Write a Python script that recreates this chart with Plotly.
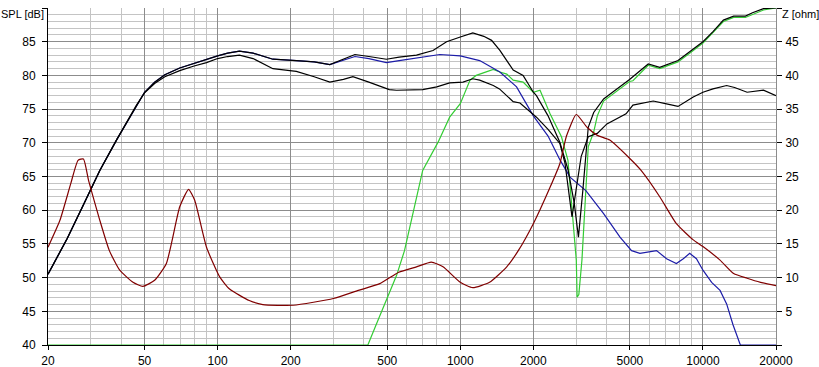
import plotly.graph_objects as go

# ---------------- data ----------------
freq_upper = [20, 24, 28, 32.7, 38.3, 46.3, 50, 55, 60.6, 69.8, 80, 90, 100, 110, 123, 140, 169, 211,
              250, 290, 330, 368, 420, 496, 560, 660, 772, 878, 1000, 1126, 1250, 1346, 1456, 1554,
              1652, 1815, 2000, 2060, 2300, 2572, 2780, 2950, 3068, 3200, 3368, 3546, 3670, 3896,
              4240, 4984, 5950, 6636, 7894, 8980, 10000, 11000, 12140, 13380, 14960, 16000, 17760, 20000]
spl_upper = [50.5, 55.8, 60.8, 65.9, 70.4, 75.6, 77.5, 79.0, 80.1, 81.1, 81.8, 82.4, 82.9, 83.3, 83.6,
             83.3, 82.4, 82.2, 82.0, 81.6, 82.4, 83.1, 82.8, 82.4, 82.7, 83.0, 83.7, 85.0, 85.7, 86.3,
             85.8, 85.2, 83.7, 82.2, 80.8, 80.0, 77.5, 77.0, 74.0, 70.1, 66.0, 61.0, 56.0, 63.0, 72.3,
             74.5, 75.2, 76.5, 77.5, 79.4, 81.7, 81.2, 82.2, 83.7, 85.0, 86.5, 88.2, 88.8, 88.8, 89.3,
             89.9, 90.0]

freq_lower = [20, 24, 28, 32.7, 38.3, 46.3, 50, 55, 60.6, 69.8, 80, 90, 100, 110, 123, 140, 169, 211,
              250, 290, 330, 361, 420, 466, 510, 546, 620, 700, 800, 904, 1026, 1126, 1202, 1368, 1450,
              1652, 1762, 2060, 2300, 2572, 2700, 2887, 3000, 3150, 3368, 3670, 4020, 4460, 4820, 5146,
              6240, 7000, 7894, 9120, 10000, 11000, 12520, 13500, 15200, 17760, 20000]
spl_lower = [50.5, 55.8, 60.8, 65.9, 70.4, 75.6, 77.4, 78.8, 79.8, 80.7, 81.4, 81.9, 82.5, 82.8, 83.0,
             82.5, 81.0, 80.6, 79.8, 79.0, 79.4, 79.8, 79.0, 78.4, 77.9, 77.8, 77.8, 77.9, 78.3, 78.9,
             79.0, 79.5, 79.3, 78.5, 78.0, 76.1, 75.9, 73.8, 72.0, 69.9, 67.0, 59.0, 63.0, 68.0, 70.9,
             71.4, 72.8, 73.6, 74.3, 75.6, 76.2, 75.8, 75.4, 76.8, 77.5, 78.0, 78.5, 78.2, 77.5, 77.8,
             77.0]

freq_blue = [20, 24, 28, 32.7, 38.3, 46.3, 50, 55, 60.6, 69.8, 80, 90, 100, 110, 123, 140, 169, 211,
             250, 290, 330, 368, 420, 496, 560, 660, 824, 1000, 1202, 1456, 1706, 2000, 2300, 2572,
             2832, 3292, 3896, 4552, 5080, 5496, 6000, 6440, 7080, 7772, 8300, 8820, 9400, 10000,
             10860, 11760, 12520, 13300, 14260, 20000]
spl_blue = [50.5, 55.8, 60.8, 65.9, 70.4, 75.6, 77.5, 79.0, 80.1, 81.1, 81.8, 82.4, 82.9, 83.3, 83.6,
            83.3, 82.4, 82.2, 82.0, 81.6, 82.3, 82.8, 82.5, 81.9, 82.2, 82.6, 83.1, 82.9, 82.2, 80.5,
            78.3, 74.0, 71.0, 67.5, 64.9, 62.9, 59.5, 56.0, 54.0, 53.6, 53.8, 54.0, 52.8, 52.1, 52.8,
            53.6, 52.8, 51.1, 49.3, 48.1, 46.1, 43.0, 40.0, 40.0]

freq_green = [20, 416, 450, 496, 546, 589, 650, 700, 810, 904, 1000, 1097, 1163, 1260, 1368, 1456, 1554,
              1652, 1815, 2000, 2131, 2344, 2612, 2778, 2900, 3006, 3030, 3080, 3172, 3292, 3368, 3546,
              3670, 3896, 4240, 4984, 5146, 5950, 6636, 7894, 8980, 10000, 12140, 13380, 14960, 17760,
              20000]
spl_green = [40.0, 40.0, 43.0, 46.6, 50.3, 54.0, 61.0, 65.9, 70.1, 73.8, 75.8, 79.3, 80.0, 80.5, 80.9,
             80.5, 80.2, 79.3, 79.0, 77.5, 77.8, 74.3, 70.9, 67.4, 60.0, 52.6, 47.1, 47.5, 52.6, 62.5,
             69.4, 71.6, 74.0, 76.2, 77.2, 79.1, 79.2, 81.5, 81.0, 82.0, 83.5, 84.8, 88.0, 88.6, 88.6,
             89.7, 90.0]

freq_imp = [20, 22.4, 24.8, 26.6, 28, 29.4, 32.7, 35.8, 39.5, 44.8, 49.2, 55, 61.5, 69.8, 75.9, 80.4,
            90, 102, 112, 135, 153.6, 205, 300, 380, 466, 558, 660, 760, 849, 1000, 1126, 1320, 1554,
            1734, 2000, 2344, 2572, 2739, 3006, 3330, 3670, 4130, 4984, 5560, 6636, 7772, 9120, 10000,
            11760, 13380, 15200, 17270, 20000]
z_imp = [14.5, 18.5, 23.9, 27.4, 27.6, 24.4, 18.5, 14.0, 11.1, 9.3, 8.7, 9.6, 12.1, 20.5, 23.1, 21.5,
         14.5, 10.1, 8.3, 6.6, 6.0, 5.9, 6.9, 8.1, 9.1, 10.8, 11.6, 12.3, 11.6, 9.3, 8.5, 9.3, 11.6,
         14.0, 18.0, 23.4, 26.9, 31.0, 34.2, 32.3, 31.1, 30.4, 27.7, 25.9, 22.0, 18.0, 15.6, 14.6,
         12.6, 10.6, 9.9, 9.3, 8.8]

x_major = [20, 50, 100, 200, 500, 1000, 2000, 5000, 10000, 20000]
x_labels = ["20", "50", "100", "200", "500", "1000", "2000", "5000", "10000", "20000"]
x_minor = [30, 40, 60, 70, 80, 90, 300, 400, 600, 700, 800, 900,
           3000, 4000, 6000, 7000, 8000, 9000]
spl_ticks = [40, 45, 50, 55, 60, 65, 70, 75, 80, 85, 90]
spl_labels = ["40", "45", "50", "55", "60", "65", "70", "75", "80", "85", ""]
z_ticks = [0, 5, 10, 15, 20, 25, 30, 35, 40, 45, 50]
z_labels = ["", "5", "10", "15", "20", "25", "30", "35", "40", "45", ""]

# ---------------- figure ----------------
fig = go.Figure()
lw = 1.2
fig.add_trace(go.Scatter(x=freq_green, y=spl_green, mode="lines",
                         line=dict(color="#33cc33", width=lw), yaxis="y"))
fig.add_trace(go.Scatter(x=freq_imp, y=z_imp, mode="lines",
                         line=dict(color="#800000", width=lw, shape="spline", smoothing=0.5), yaxis="y2"))
fig.add_trace(go.Scatter(x=freq_blue, y=spl_blue, mode="lines",
                         line=dict(color="#1c1ca8", width=lw), yaxis="y"))
fig.add_trace(go.Scatter(x=freq_lower, y=spl_lower, mode="lines",
                         line=dict(color="#000000", width=lw), yaxis="y"))
fig.add_trace(go.Scatter(x=freq_upper, y=spl_upper, mode="lines",
                         line=dict(color="#000000", width=lw), yaxis="y"))

font = dict(family="Liberation Sans, Arial, sans-serif", size=12, color="#000000")
small = dict(family="Liberation Sans, Arial, sans-serif", size=11, color="#000000")

fig.update_layout(
    width=819, height=367,
    margin=dict(l=48, r=43, t=8, b=22, autoexpand=False),
    paper_bgcolor="white", plot_bgcolor="white",
    showlegend=False,
    font=font,
    xaxis=dict(
        type="log", range=[1.30103, 4.30103], automargin=False,
        tickmode="array", tickvals=x_major, ticktext=x_labels,
        showgrid=True, gridcolor="#8c8c8c", gridwidth=1,
        ticks="outside", ticklen=4, tickcolor="#000000",
        showline=True, linecolor="#000000", linewidth=1,
        minor=dict(tickmode="array", tickvals=x_minor, showgrid=True,
                   gridcolor="#c4c4c4", gridwidth=1, ticks=""),
        zeroline=False, ticklabelstandoff=1,
    ),
    yaxis=dict(
        range=[40, 90], automargin=False,
        tickmode="array", tickvals=spl_ticks, ticktext=spl_labels,
        showgrid=True, gridcolor="#8c8c8c", gridwidth=1,
        ticks="outside", ticklen=5, tickcolor="#000000",
        showline=True, linecolor="#000000", linewidth=1,
        minor=dict(dtick=1, showgrid=True, gridcolor="#c4c4c4", gridwidth=1, ticks=""),
        zeroline=False, ticklabelstandoff=4,
    ),
    yaxis2=dict(
        range=[0, 50], overlaying="y", side="right", automargin=False,
        tickmode="array", tickvals=z_ticks, ticktext=z_labels,
        showgrid=False, ticks="outside", ticklen=5, tickcolor="#000000",
        showline=True, linecolor="#8c8c8c", linewidth=1,
        zeroline=False, ticklabelstandoff=1,
    ),
    annotations=[
        dict(text="SPL [dB]", xref="paper", yref="paper", x=0, y=1,
             xanchor="right", yanchor="middle", xshift=-2, yshift=-6,
             showarrow=False, font=small),
        dict(text="Z [ohm]", xref="paper", yref="paper", x=1, y=1,
             xanchor="left", yanchor="middle", xshift=4, yshift=-6,
             showarrow=False, font=small),
    ],
)

fig.write_html("out.html",
               config={"displayModeBar": False},
               post_script="document.body.style.margin='0';document.body.style.padding='0';")
